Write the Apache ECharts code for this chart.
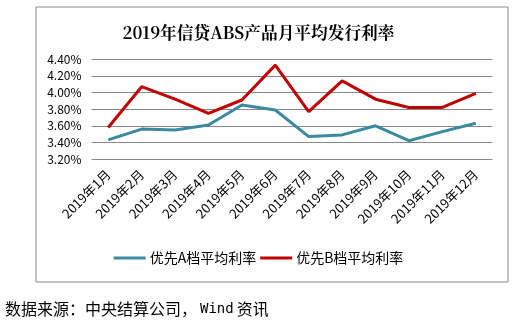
<!DOCTYPE html>
<html><head><meta charset="utf-8">
<script src="https://cdn.jsdelivr.net/npm/echarts@6/dist/echarts.min.js"></script>
<style>html,body{margin:0;padding:0;background:#fff}#c{width:517px;height:324px}</style>
</head><body><div id="c"></div>
<script>
const categories = ['2019年1月','2019年2月','2019年3月','2019年4月','2019年5月','2019年6月','2019年7月','2019年8月','2019年9月','2019年10月','2019年11月','2019年12月'];
const seriesA = [3.43,3.56,3.55,3.61,3.85,3.79,3.47,3.49,3.60,3.42,3.53,3.63];
const seriesB = [3.58,4.07,3.92,3.75,3.91,4.33,3.77,4.14,3.92,3.82,3.82,3.99];
const nameA = '优先A档平均利率';
const nameB = '优先B档平均利率';
const titleText = '2019年信贷ABS产品月平均发行利率';
const sourceParts = ['数据来源：中央结算公司，', 'Wind', '资讯'];

const chart = echarts.init(document.getElementById('c'));
chart.setOption({
  animation:false,
  title:{text:titleText,left:'center',top:19,textStyle:{fontFamily:'Noto Serif CJK SC, Noto Sans CJK SC',fontWeight:'bold',fontSize:16.7,color:'#000'}},
  grid:{left:91.5,right:24.5,top:59.3,bottom:165},
  legend:{bottom:54,left:'center',itemWidth:32,itemHeight:3,itemGap:4,icon:'rect',
    textStyle:{fontFamily:'Noto Sans CJK SC',fontSize:14,color:'#000',padding:[0,0,0,-1]},
    data:[{name:nameA},{name:nameB}]},
  xAxis:{type:'category',data:categories,boundaryGap:true,
    axisLine:{show:false},axisTick:{show:false},
    axisLabel:{rotate:45,fontSize:13,color:'#000',fontFamily:'Noto Sans CJK SC',margin:13,interval:0}},
  yAxis:{type:'value',min:3.2,max:4.4,interval:0.2,
    axisLine:{show:false},axisTick:{show:false},
    splitLine:{lineStyle:{color:'#888',width:1}},
    axisLabel:{formatter:v=>v.toFixed(2)+'%',fontSize:12,color:'#000',fontFamily:'Noto Sans CJK SC',margin:10}},
  series:[
    {name:nameA,type:'line',data:seriesA,symbol:'none',lineStyle:{color:'#3b8aa0',width:3},itemStyle:{color:'#3b8aa0'}},
    {name:nameB,type:'line',data:seriesB,symbol:'none',lineStyle:{color:'#c00000',width:3},itemStyle:{color:'#c00000'}}
  ],
  graphic:[
    {type:'rect',shape:{x:36,y:7,width:472,height:275},style:{fill:'none',stroke:'#888',lineWidth:1},z:-1},
    {type:'text',left:5,top:301,style:{
      text:'{a|'+sourceParts[0]+'}{b|'+sourceParts[1]+'}{a|'+sourceParts[2]+'}',
      rich:{
        a:{fontSize:16,fill:'#000',fontFamily:'Noto Sans CJK SC'},
        b:{fontSize:14,fill:'#000',fontFamily:'DejaVu Sans Mono',padding:[0,3,0,3]}
      }}}
  ]
});
</script></body></html>
